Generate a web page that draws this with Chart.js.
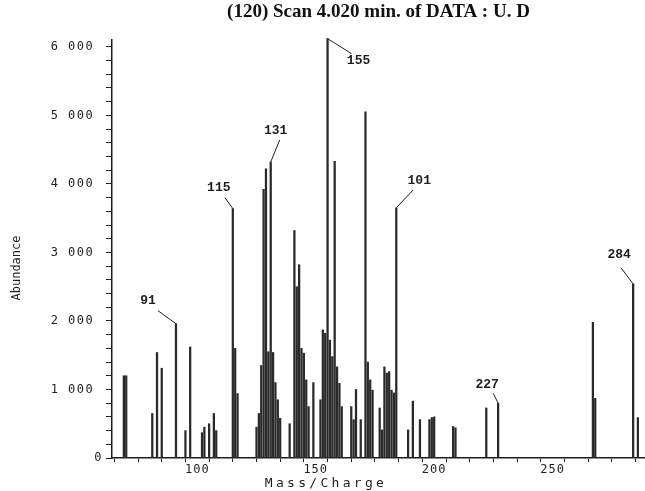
<!DOCTYPE html>
<html>
<head>
<meta charset="utf-8">
<script src="https://cdn.jsdelivr.net/npm/chart.js@4.4.0/dist/chart.umd.min.js"></script>
<style>
  html, body { margin: 0; padding: 0; background: #fff; }
  #wrap { width: 645px; height: 491px; position: relative; }
</style>
</head>
<body>
<div id="wrap"><canvas id="spectrum"></canvas></div>
<script>
// ---- spectrum data: m/z and abundance ----
const masses = [
  69, 70, 81, 83, 85, 91, 95, 97, 102, 103, 105, 107, 108,
  115, 116, 117, 125, 126, 127, 128, 129, 130, 131, 132, 133, 134, 135,
  139, 141, 142, 143, 144, 145, 146, 147, 149,
  152, 153, 154, 155, 156, 157, 158, 159, 160, 161,
  165, 166, 167, 169, 171, 172, 173, 174,
  177, 178, 179, 180, 181, 182, 183, 184,
  189, 191, 194, 198, 199, 200, 208, 209,
  222, 227, 267, 268, 284, 286
];
const abundance = [
  1200, 1200, 650, 1540, 1310, 1960, 400, 1620, 370, 450, 500, 650, 400,
  3640, 1600, 940, 450, 650, 1350, 3920, 4220, 1550, 4320, 1540, 1100, 850, 580,
  500, 3320, 2500, 2820, 1600, 1530, 1140, 750, 1100,
  850, 1870, 1820, 6120, 1720, 1480, 4330, 1330, 1090, 750,
  750, 560, 1000, 560, 5050, 1400, 1140, 990,
  730, 410, 1330, 1240, 1260, 990, 950, 3650,
  410, 830, 560, 560, 590, 600, 460, 440,
  730, 800, 1980, 870, 2540, 590
];

// annotated peaks
const labelMasses = [91, 115, 131, 155, 184, 227, 284];
const labelTexts = ['91', '115', '131', '155', '101', '227', '284'];

// axis ticks
const xTickLabels = [100, 150, 200, 250];
const yTickValues = [0, 1000, 2000, 3000, 4000, 5000, 6000];
const yTickLabels = ['0', '1 000', '2 000', '3 000', '4 000', '5 000', '6 000'];

const ink = '#1e1e1e';
const monoFont = '"DejaVu Sans Mono", "Liberation Mono", monospace';

// text offset (tx, ty) and leader line end (lx, ly) relative to the peak top, px
const labelLayout = [
  { tx: -28, ty: -23, lx: -18, ly: -13 },
  { tx: -14, ty: -21, lx: -8, ly: -11 },
  { tx: 5, ty: -31, lx: 9, ly: -22 },
  { tx: 31, ty: 22, lx: 24, ly: 15 },
  { tx: 23, ty: -27, lx: 17, ly: -18 },
  { tx: -11, ty: -18, lx: -5, ly: -10 },
  { tx: -14, ty: -29, lx: -12, ly: -16 }
];

// plotter-style wide lettering for the tick labels
function spacedLabels(scale, spacing) {
  if (scale._spaced) return;
  const draw = scale.drawLabels;
  scale.drawLabels = function (area) {
    this.ctx.save();
    this.ctx.letterSpacing = spacing;
    draw.call(this, area);
    this.ctx.restore();
  };
  scale._spaced = true;
}

const peakLabels = {
  id: 'peakLabels',
  afterDatasetsDraw(chart) {
    const { ctx } = chart;
    const xs = chart.scales.x, ys = chart.scales.y;
    ctx.save();
    ctx.strokeStyle = ink;
    ctx.fillStyle = ink;
    ctx.lineWidth = 1;
    ctx.font = 'bold 13px "Liberation Mono", monospace';
    ctx.textAlign = 'center';
    ctx.textBaseline = 'middle';
    labelMasses.forEach((m, i) => {
      const v = abundance[masses.indexOf(m)];
      const px = xs.getPixelForValue(m);
      const py = ys.getPixelForValue(v);
      const l = labelLayout[i];
      ctx.beginPath();
      ctx.moveTo(px, py);
      ctx.lineTo(px + l.lx, py + l.ly);
      ctx.stroke();
      ctx.fillText(labelTexts[i], px + l.tx, py + l.ty);
    });
    ctx.restore();
  }
};

const axisTitles = {
  id: 'axisTitles',
  afterDraw(chart) {
    const { ctx, chartArea } = chart;
    ctx.save();
    ctx.fillStyle = ink;
    ctx.textAlign = 'center';
    ctx.textBaseline = 'middle';
    ctx.font = '13px ' + monoFont;
    ctx.letterSpacing = '3.3px';
    ctx.fillText('Mass/Charge', chartArea.left + 214, 484);
    ctx.letterSpacing = '0px';
    ctx.font = '12px ' + monoFont;
    ctx.translate(17, 268);
    ctx.rotate(-Math.PI / 2);
    ctx.fillText('Abundance', 0, 0);
    ctx.restore();
  }
};

const ctx = document.getElementById('spectrum').getContext('2d');
new Chart(ctx, {
  type: 'bar',
  data: {
    datasets: [{
      data: masses.map((m, i) => ({ x: m, y: abundance[i] })),
      backgroundColor: '#2a2a2a',
      barThickness: 1.6,
      clip: false
    }]
  },
  options: {
    responsive: true,
    maintainAspectRatio: false,
    animation: false,
    layout: { padding: { left: 0, right: 0, top: 0, bottom: 0 } },
    scales: {
      x: {
        type: 'linear',
        min: 64,
        max: 289,
        offset: false,
        afterFit: scale => {
          scale.height = 33;
          spacedLabels(scale, '1px');
        },
        afterBuildTicks: scale => {
          const t = [];
          for (let v = 70; v <= 280; v += 10) t.push({ value: v });
          scale.ticks = t;
        },
        grid: {
          drawOnChartArea: false,
          drawTicks: true,
          tickLength: 4,
          color: ink
        },
        border: { display: true, color: ink, width: 1.5 },
        ticks: {
          autoSkip: false,
          maxRotation: 0,
          padding: 1,
          color: ink,
          font: { family: monoFont, size: 12 },
          callback: v => (xTickLabels.includes(v) ? String(v) : '')
        }
      },
      y: {
        min: 0,
        max: 6100,
        afterFit: scale => {
          scale.width = 112;
          spacedLabels(scale, '1.5px');
        },
        afterBuildTicks: scale => {
          const t = [];
          for (let v = 0; v <= 6000; v += 200) t.push({ value: v });
          scale.ticks = t;
        },
        grid: {
          drawOnChartArea: false,
          drawTicks: true,
          tickLength: 6,
          color: ink
        },
        border: { display: true, color: ink, width: 1.5 },
        ticks: {
          autoSkip: false,
          padding: 3,
          color: ink,
          font: { family: monoFont, size: 12 },
          callback: v => {
            const i = yTickValues.indexOf(v);
            if (i < 0) return '';
            // thousands labels sit a little further off the axis than the zero
            return v === 0 ? yTickLabels[i] : yTickLabels[i] + ' ';
          }
        }
      }
    },
    plugins: {
      legend: { display: false },
      tooltip: { enabled: false },
      title: {
        display: true,
        fullSize: false,
        text: '(120) Scan 4.020 min. of DATA : U. D',
        color: '#111',
        font: { family: '"Liberation Serif", "Times New Roman", serif', size: 19, weight: 'bold' },
        padding: { top: 1, bottom: 16.2 }
      }
    }
  },
  plugins: [peakLabels, axisTitles]
});
</script>
</body>
</html>
